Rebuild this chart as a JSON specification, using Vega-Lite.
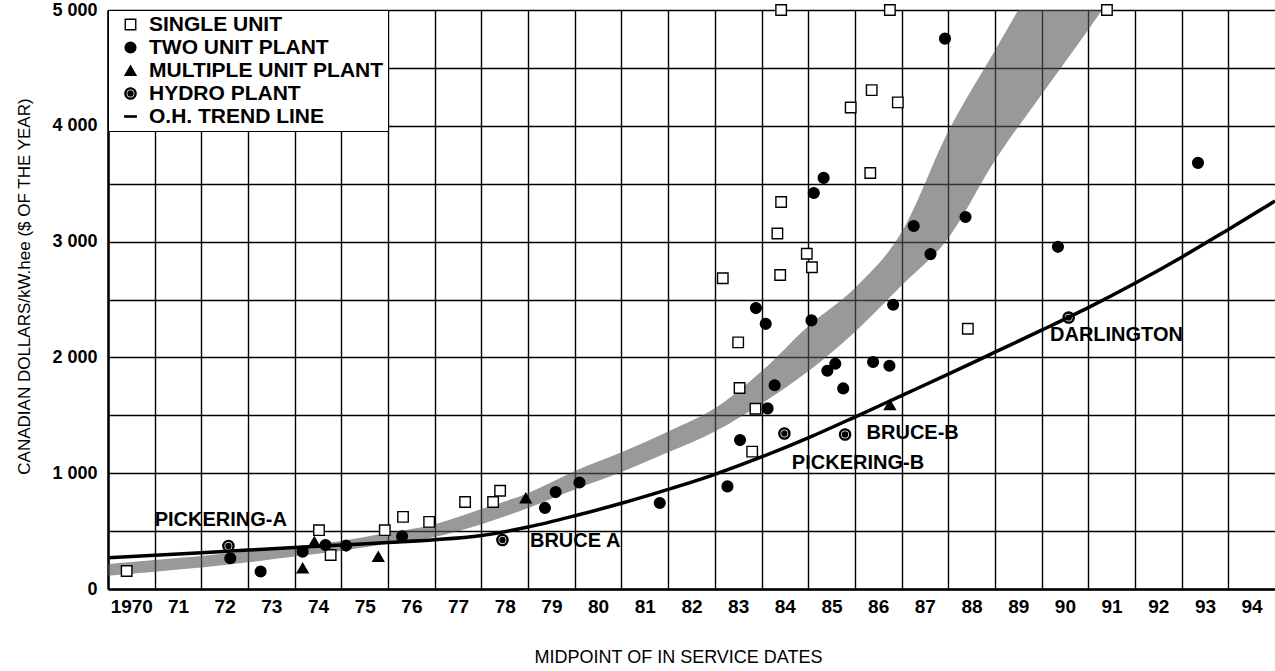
{
  "$schema": "https://vega.github.io/schema/vega-lite/v6.json",
  "width": 1167,
  "height": 579,
  "autosize": "none",
  "padding": {"left": 108, "top": 10, "right": 0, "bottom": 82},
  "background": "white",
  "config": {
    "view": {"stroke": null},
    "font": "Liberation Sans",
    "legend": {
      "orient": "top-left",
      "offset": 0,
      "padding": 4,
      "rowPadding": 1,
      "symbolOffset": 8,
      "labelOffset": 8,
      "fillColor": "white",
      "strokeColor": "black",
      "labelFont": "Liberation Sans",
      "labelFontWeight": "bold",
      "labelFontSize": 21,
      "labelColor": "black",
      "labelLimit": 400
    }
  },
  "datasets": {
    "points": [
      {"type": "SINGLE UNIT", "t": 1970.4, "v": 155},
      {"type": "SINGLE UNIT", "t": 1974.52, "v": 508},
      {"type": "SINGLE UNIT", "t": 1974.77, "v": 294},
      {"type": "SINGLE UNIT", "t": 1975.93, "v": 508},
      {"type": "SINGLE UNIT", "t": 1976.32, "v": 623},
      {"type": "SINGLE UNIT", "t": 1976.88, "v": 580},
      {"type": "SINGLE UNIT", "t": 1977.65, "v": 751},
      {"type": "SINGLE UNIT", "t": 1978.25, "v": 751},
      {"type": "SINGLE UNIT", "t": 1978.4, "v": 848},
      {"type": "SINGLE UNIT", "t": 1983.17, "v": 2683},
      {"type": "SINGLE UNIT", "t": 1983.5, "v": 2130},
      {"type": "SINGLE UNIT", "t": 1983.53, "v": 1736},
      {"type": "SINGLE UNIT", "t": 1983.8, "v": 1186},
      {"type": "SINGLE UNIT", "t": 1983.87, "v": 1557},
      {"type": "SINGLE UNIT", "t": 1984.34, "v": 3070},
      {"type": "SINGLE UNIT", "t": 1984.4, "v": 2712},
      {"type": "SINGLE UNIT", "t": 1984.42, "v": 3342},
      {"type": "SINGLE UNIT", "t": 1984.42, "v": 5000},
      {"type": "SINGLE UNIT", "t": 1984.97, "v": 2895},
      {"type": "SINGLE UNIT", "t": 1985.08, "v": 2779},
      {"type": "SINGLE UNIT", "t": 1985.91, "v": 4158},
      {"type": "SINGLE UNIT", "t": 1986.33, "v": 3592},
      {"type": "SINGLE UNIT", "t": 1986.36, "v": 4308},
      {"type": "SINGLE UNIT", "t": 1986.75, "v": 5000},
      {"type": "SINGLE UNIT", "t": 1986.92, "v": 4202},
      {"type": "SINGLE UNIT", "t": 1988.42, "v": 2247},
      {"type": "SINGLE UNIT", "t": 1991.4, "v": 5000},
      {"type": "TWO UNIT PLANT", "t": 1972.62, "v": 266},
      {"type": "TWO UNIT PLANT", "t": 1973.27, "v": 151},
      {"type": "TWO UNIT PLANT", "t": 1974.17, "v": 323},
      {"type": "TWO UNIT PLANT", "t": 1974.66, "v": 380},
      {"type": "TWO UNIT PLANT", "t": 1975.1, "v": 375},
      {"type": "TWO UNIT PLANT", "t": 1976.3, "v": 455},
      {"type": "TWO UNIT PLANT", "t": 1979.36, "v": 700},
      {"type": "TWO UNIT PLANT", "t": 1979.59, "v": 837},
      {"type": "TWO UNIT PLANT", "t": 1980.1, "v": 920},
      {"type": "TWO UNIT PLANT", "t": 1981.82, "v": 743},
      {"type": "TWO UNIT PLANT", "t": 1983.27, "v": 886},
      {"type": "TWO UNIT PLANT", "t": 1983.54, "v": 1286},
      {"type": "TWO UNIT PLANT", "t": 1983.88, "v": 2426},
      {"type": "TWO UNIT PLANT", "t": 1984.09, "v": 2290},
      {"type": "TWO UNIT PLANT", "t": 1984.13, "v": 1560},
      {"type": "TWO UNIT PLANT", "t": 1984.28, "v": 1760},
      {"type": "TWO UNIT PLANT", "t": 1985.07, "v": 2320},
      {"type": "TWO UNIT PLANT", "t": 1985.12, "v": 3420},
      {"type": "TWO UNIT PLANT", "t": 1985.33, "v": 3550},
      {"type": "TWO UNIT PLANT", "t": 1985.41, "v": 1885},
      {"type": "TWO UNIT PLANT", "t": 1985.58, "v": 1945},
      {"type": "TWO UNIT PLANT", "t": 1985.75, "v": 1732},
      {"type": "TWO UNIT PLANT", "t": 1986.39, "v": 1960},
      {"type": "TWO UNIT PLANT", "t": 1986.74, "v": 1928},
      {"type": "TWO UNIT PLANT", "t": 1986.82, "v": 2455},
      {"type": "TWO UNIT PLANT", "t": 1987.26, "v": 3135},
      {"type": "TWO UNIT PLANT", "t": 1987.62, "v": 2892},
      {"type": "TWO UNIT PLANT", "t": 1987.93, "v": 4753},
      {"type": "TWO UNIT PLANT", "t": 1988.37, "v": 3212},
      {"type": "TWO UNIT PLANT", "t": 1990.35, "v": 2955},
      {"type": "TWO UNIT PLANT", "t": 1993.35, "v": 3680},
      {"type": "MULTIPLE UNIT PLANT", "t": 1974.17, "v": 180},
      {"type": "MULTIPLE UNIT PLANT", "t": 1974.42, "v": 408},
      {"type": "MULTIPLE UNIT PLANT", "t": 1975.79, "v": 280},
      {"type": "MULTIPLE UNIT PLANT", "t": 1978.95, "v": 785},
      {"type": "MULTIPLE UNIT PLANT", "t": 1986.75, "v": 1590},
      {"type": "HYDRO PLANT", "t": 1972.58, "v": 371},
      {"type": "HYDRO PLANT", "t": 1978.45, "v": 423},
      {"type": "HYDRO PLANT", "t": 1984.49, "v": 1343},
      {"type": "HYDRO PLANT", "t": 1985.79, "v": 1334},
      {"type": "HYDRO PLANT", "t": 1990.58, "v": 2344}
    ],
    "trend": [
      {"t": 1970, "v": 270}, {"t": 1971, "v": 292}, {"t": 1972, "v": 314},
      {"t": 1973, "v": 336}, {"t": 1974, "v": 358}, {"t": 1975, "v": 380},
      {"t": 1976, "v": 402}, {"t": 1977, "v": 425}, {"t": 1978, "v": 462},
      {"t": 1979, "v": 535}, {"t": 1980, "v": 632}, {"t": 1981, "v": 740},
      {"t": 1982, "v": 860}, {"t": 1983, "v": 990}, {"t": 1984, "v": 1140},
      {"t": 1985, "v": 1305}, {"t": 1986, "v": 1485}, {"t": 1987, "v": 1670},
      {"t": 1988, "v": 1855}, {"t": 1989, "v": 2045}, {"t": 1990, "v": 2235},
      {"t": 1991, "v": 2430}, {"t": 1992, "v": 2640}, {"t": 1993, "v": 2865},
      {"t": 1994, "v": 3105}, {"t": 1995, "v": 3350}
    ],
    "band": [
      {"t": 1970, "v": 115, "v2": 215}, {"t": 1971, "v": 150, "v2": 250},
      {"t": 1972, "v": 185, "v2": 285}, {"t": 1973, "v": 230, "v2": 325},
      {"t": 1974, "v": 280, "v2": 365}, {"t": 1975, "v": 330, "v2": 415},
      {"t": 1976, "v": 390, "v2": 485}, {"t": 1977, "v": 450, "v2": 560},
      {"t": 1978, "v": 560, "v2": 690}, {"t": 1979, "v": 700, "v2": 830},
      {"t": 1980, "v": 860, "v2": 1020}, {"t": 1981, "v": 1010, "v2": 1180},
      {"t": 1982, "v": 1180, "v2": 1360}, {"t": 1983, "v": 1360, "v2": 1560},
      {"t": 1984, "v": 1600, "v2": 1880}, {"t": 1985, "v": 1880, "v2": 2270},
      {"t": 1986, "v": 2220, "v2": 2600}, {"t": 1987, "v": 2620, "v2": 3080},
      {"t": 1988, "v": 3030, "v2": 3950}, {"t": 1989, "v": 3700, "v2": 4650},
      {"t": 1990, "v": 4270, "v2": 5350}, {"t": 1991, "v": 4830, "v2": 6050},
      {"t": 1992, "v": 5400, "v2": 6750}
    ],
    "labels": [
      {"t": 1971.0, "v": 596, "label": "PICKERING-A"},
      {"t": 1979.04, "v": 417, "label": "BRUCE A"},
      {"t": 1984.65, "v": 1085, "label": "PICKERING-B"},
      {"t": 1986.25, "v": 1345, "label": "BRUCE-B"},
      {"t": 1990.18, "v": 2193, "label": "DARLINGTON"}
    ]
  },
  "encoding": {
    "x": {
      "field": "t",
      "type": "quantitative",
      "scale": {"domain": [1970, 1995], "nice": false, "zero": false},
      "axis": {
        "values": [1970, 1971, 1972, 1973, 1974, 1975, 1976, 1977, 1978, 1979, 1980, 1981, 1982, 1983, 1984, 1985, 1986, 1987, 1988, 1989, 1990, 1991, 1992, 1993, 1994],
        "grid": true,
        "gridColor": "black",
        "gridWidth": 1.4,
        "gridOpacity": 1,
        "domainColor": "black",
        "domainWidth": 2.5,
        "ticks": false,
        "labelExpr": "datum.value == 1970 ? '1970' : format(datum.value - 1900, 'd')",
        "labelOffset": 23.3,
        "labelPadding": 8,
        "labelFont": "Liberation Sans",
        "labelFontWeight": "bold",
        "labelFontSize": 19,
        "labelColor": "black",
        "labelOverlap": false,
        "labelFlush": false,
        "labelBound": false,
        "title": "MIDPOINT OF IN SERVICE DATES",
        "titleFont": "Liberation Sans",
        "titleFontWeight": "normal",
        "titleFontSize": 18,
        "titleColor": "black",
        "titlePadding": 32,
        "titleX": 570
      }
    },
    "y": {
      "field": "v",
      "type": "quantitative",
      "scale": {"domain": [0, 5000], "nice": false, "zero": true},
      "axis": {
        "values": [0, 500, 1000, 1500, 2000, 2500, 3000, 3500, 4000, 4500, 5000],
        "grid": true,
        "gridColor": "black",
        "gridWidth": 1.4,
        "gridOpacity": 1,
        "domainColor": "black",
        "domainWidth": 2.5,
        "ticks": false,
        "labelExpr": "datum.value % 1000 == 0 ? (datum.value == 0 ? '0' : replace(format(datum.value, ','), ',', ' ')) : ''",
        "labelPadding": 11,
        "labelFont": "Liberation Sans",
        "labelFontWeight": "bold",
        "labelFontSize": 18,
        "labelColor": "black",
        "labelOverlap": false,
        "labelFlush": false,
        "labelBound": false,
        "title": "CANADIAN DOLLARS/kW.hee ($ OF THE YEAR)",
        "titleFont": "Liberation Sans",
        "titleFontWeight": "normal",
        "titleFontSize": 17,
        "titleColor": "black",
        "titlePadding": 18,
        "titleY": 276
      }
    }
  },
  "layer": [
    {
      "data": {"name": "band"},
      "mark": {"type": "area", "clip": true, "fill": "#555555", "fillOpacity": 0.6, "interpolate": "monotone"},
      "encoding": {"y2": {"field": "v2"}}
    },
    {
      "data": {"name": "trend"},
      "mark": {"type": "line", "color": "black", "strokeWidth": 3.5, "interpolate": "monotone", "clip": true},
      "encoding": {}
    },
    {
      "data": {"name": "points"},
      "mark": {"type": "point", "filled": true, "opacity": 1},
      "encoding": {
        "shape": {
          "field": "type",
          "type": "nominal",
          "scale": {
            "domain": ["SINGLE UNIT", "TWO UNIT PLANT", "MULTIPLE UNIT PLANT", "HYDRO PLANT", "O.H. TREND LINE"],
            "range": ["square", "circle", "triangle-up", "M1,0A1,1,0,1,1,-1,0A1,1,0,1,1,1,0ZM0.8,0A0.8,0.8,0,1,0,-0.8,0A0.8,0.8,0,1,0,0.8,0ZM0.45,0A0.45,0.45,0,1,1,-0.45,0A0.45,0.45,0,1,1,0.45,0Z", "M-1,-0.13L1,-0.13L1,0.13L-1,0.13Z"]
          },
          "legend": {
            "title": null,
            "encode": {
              "legend": {"update": {"strokeWidth": {"value": 2}}}
            }
          }
        },
        "fill": {
          "field": "type",
          "type": "nominal",
          "scale": {
            "domain": ["SINGLE UNIT", "TWO UNIT PLANT", "MULTIPLE UNIT PLANT", "HYDRO PLANT", "O.H. TREND LINE"],
            "range": ["white", "black", "black", "black", "black"]
          },
          "legend": {"title": null}
        },
        "stroke": {
          "field": "type",
          "type": "nominal",
          "scale": {
            "domain": ["SINGLE UNIT", "TWO UNIT PLANT", "MULTIPLE UNIT PLANT", "HYDRO PLANT", "O.H. TREND LINE"],
            "range": ["black", "black", "black", "black", "black"]
          },
          "legend": {"title": null}
        },
        "strokeWidth": {
          "field": "type",
          "type": "ordinal",
          "scale": {
            "domain": ["SINGLE UNIT", "TWO UNIT PLANT", "MULTIPLE UNIT PLANT", "HYDRO PLANT", "O.H. TREND LINE"],
            "range": [1.4, 1.2, 1.2, 1.2, 1.2]
          },
          "legend": {"title": null}
        },
        "size": {
          "field": "type",
          "type": "nominal",
          "scale": {
            "domain": ["SINGLE UNIT", "TWO UNIT PLANT", "MULTIPLE UNIT PLANT", "HYDRO PLANT", "O.H. TREND LINE"],
            "range": [110, 135, 110, 289, 289]
          },
          "legend": {"title": null}
        }
      }
    },
    {
      "data": {"name": "labels"},
      "mark": {"type": "text", "align": "left", "baseline": "middle", "font": "Liberation Sans", "fontWeight": "bold", "fontSize": 20, "color": "black"},
      "encoding": {"text": {"field": "label", "type": "nominal"}}
    }
  ]
}
